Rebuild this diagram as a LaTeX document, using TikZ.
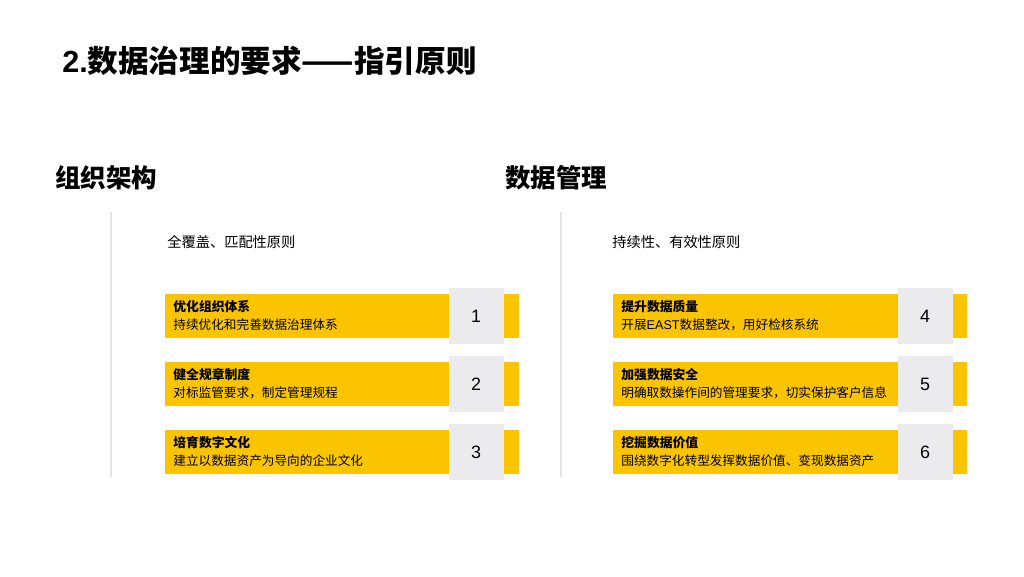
\documentclass[tikz,border=0pt]{standalone}
\usepackage{fontspec}
\setmainfont{Noto Sans CJK SC}
\newfontfamily\numfont{Liberation Sans}
\definecolor{barY}{HTML}{FAC400}
\definecolor{boxG}{HTML}{EBEBEE}
\definecolor{lineG}{HTML}{E3E3E3}
\begin{document}
\begin{tikzpicture}[x=0.02cm,y=-0.02cm,
  bar/.style={fill=barY,draw=none},
  numbox/.style={fill=boxG,draw=none,minimum width=55*0.02cm,minimum height=56*0.02cm,inner sep=0,font=\numfont\fontsize{10.2pt}{12pt}\selectfont},
  bartitle/.style={anchor=west,inner sep=0,font=\fontsize{7.3pt}{8pt}\selectfont\bfseries},
  bartext/.style={anchor=west,inner sep=0,font=\fontsize{7.2pt}{8pt}\selectfont},
  head/.style={anchor=west,inner sep=0,font=\fontsize{14.5pt}{16pt}\selectfont\bfseries},
  sub/.style={anchor=west,inner sep=0,font=\fontsize{8.1pt}{9pt}\selectfont},
  vline/.style={draw=lineG,line width=0.6pt}]
\useasboundingbox (0,0) rectangle (1024,576);
\fill[white] (0,0) rectangle (1024,576);
\node[anchor=west,inner sep=0,font=\fontsize{17.4pt}{19pt}\selectfont\bfseries] (title) at (62,61) {{\numfont\bfseries 2.}数据治理的要求——指引原则};
\node[head] (h1) at (55,178) {组织架构};
\node[head] (h2) at (505,178) {数据管理};
\coordinate (l1a) at (111,212); \coordinate (l1b) at (111,477);
\coordinate (l2a) at (561,212); \coordinate (l2b) at (561,477);
\draw[vline] (l1a) -- (l1b);
\draw[vline] (l2a) -- (l2b);
\node[sub] (s1) at (167,242) {全覆盖、匹配性原则};
\node[sub] (s2) at (612,242) {持续性、有效性原则};
% left bars
\foreach \i/\t/\tt/\d in {0/优化组织体系/持续优化和完善数据治理体系/1, 1/健全规章制度/对标监管要求，制定管理规程/2, 2/培育数字文化/建立以数据资产为导向的企业文化/3}{
  \fill[bar] (165,294+68*\i) rectangle (519,338+68*\i);
  \node[numbox] (nL\d) at (476,316+68*\i) {\d};
  \node[bartitle] (tL\d) at (173,307+68*\i) {\t};
  \node[bartext] (xL\d) at (173,325+68*\i) {\tt};
}
\foreach \i/\t/\tt/\d in {0/提升数据质量/开展{\numfont EAST}数据整改，用好检核系统/4, 1/加强数据安全/明确取数操作间的管理要求，切实保护客户信息/5, 2/挖掘数据价值/围绕数字化转型发挥数据价值、变现数据资产/6}{
  \fill[bar] (613,294+68*\i) rectangle (967,338+68*\i);
  \node[numbox] (nR\d) at (925,316+68*\i) {\d};
  \node[bartitle] (tR\d) at (621,307+68*\i) {\t};
  \node[bartext] (xR\d) at (621,325+68*\i) {\tt};
}
\end{tikzpicture}
\end{document}
